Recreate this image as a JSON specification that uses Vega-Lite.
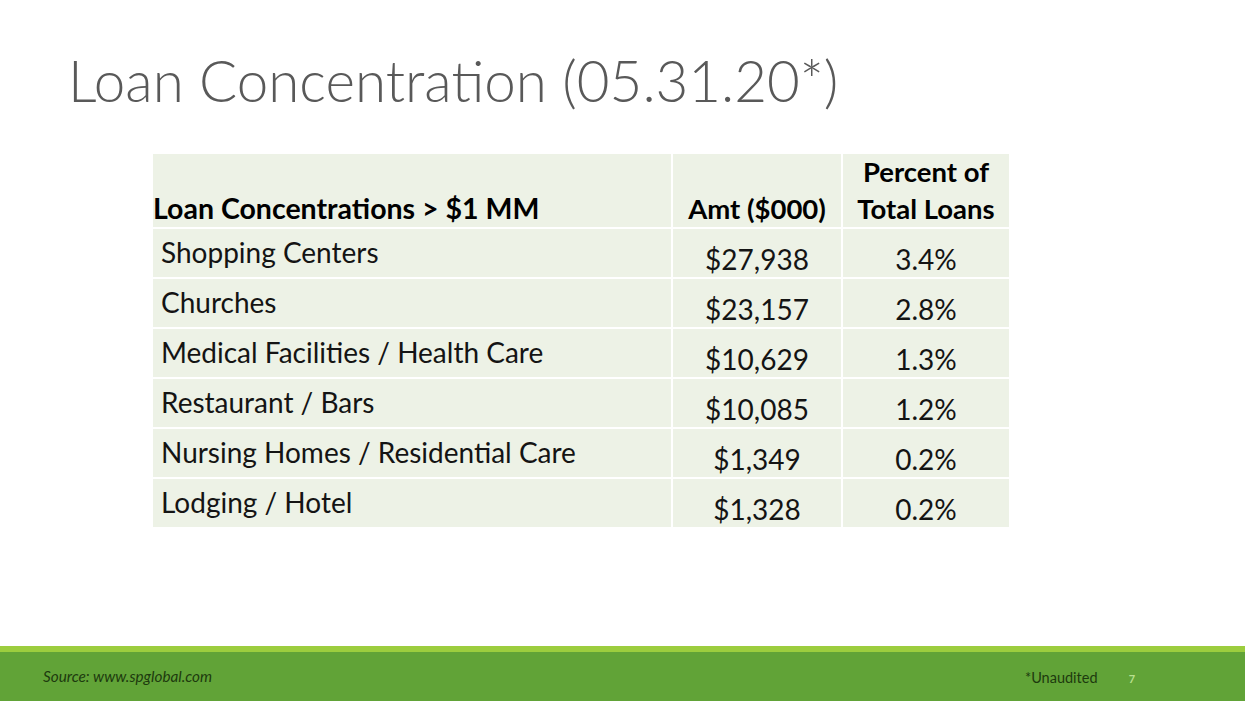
{
  "$schema": "https://vega.github.io/schema/vega-lite/v6.json",
  "width": 1245,
  "height": 701,
  "autosize": "none",
  "padding": 0,
  "background": "#ffffff",
  "config": {"view": {"stroke": null}, "font": "Lato"},
  "title": {
    "text": "Loan Concentration (05.31.20*)",
    "anchor": "start",
    "frame": "group",
    "orient": "top",
    "offset": 0,
    "dx": 68,
    "dy": 158,
    "baseline": "alphabetic",
    "font": "Lato",
    "fontSize": 56.5,
    "fontWeight": 300,
    "color": "#595959"
  },
  "datasets": {
    "loans": [
      {"category": "Shopping Centers", "amount": 27938, "percent": 0.034},
      {"category": "Churches", "amount": 23157, "percent": 0.028},
      {"category": "Medical Facilities / Health Care", "amount": 10629, "percent": 0.013},
      {"category": "Restaurant / Bars", "amount": 10085, "percent": 0.012},
      {"category": "Nursing Homes / Residential Care", "amount": 1349, "percent": 0.002},
      {"category": "Lodging / Hotel", "amount": 1328, "percent": 0.002}
    ],
    "header": [
      {"category": "Loan Concentrations > $1 MM", "amount": "Amt ($000)", "percent1": "Percent of", "percent2": "Total Loans"}
    ],
    "footer": [
      {"source": "Source: www.spglobal.com", "note": "*Unaudited", "page": "7"}
    ]
  },
  "resolve": {"scale": {"x": "independent", "y": "independent"}},
  "layer": [
    {
      "data": {"name": "loans"},
      "encoding": {
        "y": {"field": "category", "type": "nominal", "sort": null, "axis": null,
              "scale": {"range": [228, 528], "paddingInner": 0, "paddingOuter": 0}}
      },
      "layer": [
        {"mark": {"type": "rect", "fill": "#edf2e6", "stroke": "#ffffff", "strokeWidth": 2},
         "encoding": {"x": {"datum": 0, "type": "quantitative", "axis": null,
                            "scale": {"domain": [0, 1, 2, 3], "range": [152, 672, 842, 1010], "nice": false, "zero": false}},
                      "x2": {"datum": 1}}},
        {"mark": {"type": "rect", "fill": "#edf2e6", "stroke": "#ffffff", "strokeWidth": 2},
         "encoding": {"x": {"datum": 1, "type": "quantitative"}, "x2": {"datum": 2}}},
        {"mark": {"type": "rect", "fill": "#edf2e6", "stroke": "#ffffff", "strokeWidth": 2},
         "encoding": {"x": {"datum": 2, "type": "quantitative"}, "x2": {"datum": 3}}},
        {"mark": {"type": "text", "align": "left", "baseline": "alphabetic", "dx": 9, "dy": 10, "fontSize": 28, "color": "#141414"},
         "encoding": {"x": {"datum": 0, "type": "quantitative"}, "text": {"field": "category", "type": "nominal"}}},
        {"mark": {"type": "text", "align": "center", "baseline": "alphabetic", "dy": 17, "fontSize": 28, "color": "#141414"},
         "encoding": {"x": {"datum": 1.5, "type": "quantitative"}, "text": {"field": "amount", "type": "quantitative", "format": "$,.0f"}}},
        {"mark": {"type": "text", "align": "center", "baseline": "alphabetic", "dy": 17, "fontSize": 28, "color": "#141414"},
         "encoding": {"x": {"datum": 2.5, "type": "quantitative"}, "text": {"field": "percent", "type": "quantitative", "format": ".1%"}}}
      ]
    },
    {
      "data": {"name": "header"},
      "encoding": {
        "y": {"datum": "header", "type": "nominal", "axis": null,
              "scale": {"domain": ["header"], "range": [153, 228], "paddingInner": 0, "paddingOuter": 0}}
      },
      "layer": [
        {"mark": {"type": "rect", "fill": "#edf2e6", "stroke": "#ffffff", "strokeWidth": 2},
         "encoding": {"x": {"datum": 0, "type": "quantitative", "axis": null,
                            "scale": {"domain": [0, 1, 2, 3], "range": [152, 672, 842, 1010], "nice": false, "zero": false}},
                      "x2": {"datum": 1}}},
        {"mark": {"type": "rect", "fill": "#edf2e6", "stroke": "#ffffff", "strokeWidth": 2},
         "encoding": {"x": {"datum": 1, "type": "quantitative"}, "x2": {"datum": 2}}},
        {"mark": {"type": "rect", "fill": "#edf2e6", "stroke": "#ffffff", "strokeWidth": 2},
         "encoding": {"x": {"datum": 2, "type": "quantitative"}, "x2": {"datum": 3}}},
        {"mark": {"type": "text", "align": "left", "baseline": "alphabetic", "dx": 1, "dy": 28, "fontSize": 28.5, "fontWeight": "bold", "color": "#000000"},
         "encoding": {"x": {"datum": 0, "type": "quantitative"}, "text": {"field": "category", "type": "nominal"}}},
        {"mark": {"type": "text", "align": "center", "baseline": "alphabetic", "dy": 28, "fontSize": 27.5, "fontWeight": "bold", "color": "#000000"},
         "encoding": {"x": {"datum": 1.5, "type": "quantitative"}, "text": {"field": "amount", "type": "nominal"}}},
        {"mark": {"type": "text", "align": "center", "baseline": "alphabetic", "dy": -9, "fontSize": 27.5, "fontWeight": "bold", "color": "#000000"},
         "encoding": {"x": {"datum": 2.5, "type": "quantitative"}, "text": {"field": "percent1", "type": "nominal"}}},
        {"mark": {"type": "text", "align": "center", "baseline": "alphabetic", "dy": 28, "fontSize": 27.5, "fontWeight": "bold", "color": "#000000"},
         "encoding": {"x": {"datum": 2.5, "type": "quantitative"}, "text": {"field": "percent2", "type": "nominal"}}}
      ]
    },
    {
      "data": {"name": "footer"},
      "encoding": {
        "y": {"datum": "footer", "type": "nominal", "axis": null,
              "scale": {"domain": ["footer"], "range": [649, 701], "paddingInner": 0, "paddingOuter": 0}}
      },
      "layer": [
        {"mark": {"type": "rect", "fill": "#61a337"}},
        {"mark": {"type": "rule", "color": "#9ccd3e", "strokeWidth": 6},
         "encoding": {"y": {"datum": "footer", "type": "nominal", "bandPosition": 0}}},
        {"mark": {"type": "text", "align": "left", "baseline": "alphabetic", "dy": 7, "fontSize": 15.3, "fontStyle": "italic", "color": "#1d3a0e"},
         "encoding": {"x": {"datum": 0, "type": "quantitative", "axis": null,
                            "scale": {"domain": [0, 1, 2], "range": [43, 1025, 1132], "nice": false, "zero": false}},
                      "text": {"field": "source", "type": "nominal"}}},
        {"mark": {"type": "text", "align": "left", "baseline": "alphabetic", "dy": 8, "fontSize": 14.5, "color": "#1d3a0e"},
         "encoding": {"x": {"datum": 1, "type": "quantitative"}, "text": {"field": "note", "type": "nominal"}}},
        {"mark": {"type": "text", "align": "center", "baseline": "alphabetic", "dy": 8, "fontSize": 11, "fontWeight": "bold", "color": "#b8e08e"},
         "encoding": {"x": {"datum": 2, "type": "quantitative"}, "text": {"field": "page", "type": "nominal"}}}
      ]
    }
  ]
}
